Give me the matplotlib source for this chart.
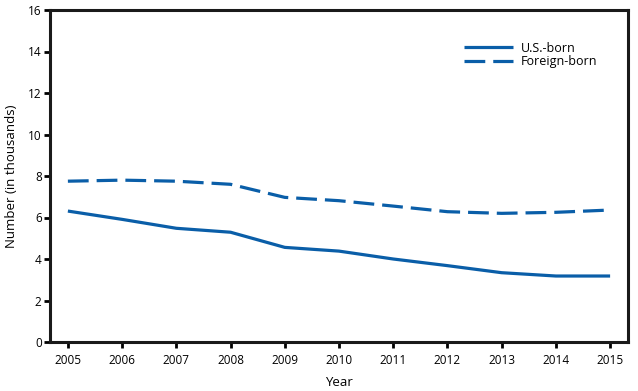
import matplotlib
matplotlib.use("Agg")
import matplotlib.pyplot as plt

years = [2005, 2006, 2007, 2008, 2009, 2010, 2011, 2012, 2013, 2014, 2015]
us_born = [6.31, 5.91, 5.48, 5.29, 4.56, 4.38, 4.0, 3.68, 3.34, 3.18, 3.18]
foreign_born = [7.75, 7.8, 7.75, 7.6, 6.97, 6.81, 6.55, 6.28, 6.2, 6.25, 6.36]
yticks = [0, 2, 4, 6, 8, 10, 12, 14, 16]

plt.rcParams['font.family'] = ['Open Sans', 'DejaVu Sans']
color = '#0a5ea8'

fig = plt.figure(figsize=(6.38, 3.91), dpi=100)
ax = fig.add_axes([50/638, 49/391, 578/638, 332/391])

ax.plot(years, us_born, color=color, lw=2.3, label='U.S.-born', solid_capstyle='butt')
ax.plot(years, foreign_born, color=color, lw=2.3, dashes=(6.5, 2.5), label='Foreign-born')

ax.set_xlim(2004.67, 2015.33)
ax.set_ylim(0, 16)
ax.set_xticks(years)
ax.set_yticks(yticks)
ax.tick_params(axis='both', direction='out', length=4, width=2, labelsize=8.5, pad=2, colors='black')
ax.tick_params(axis='x', pad=5)
for s in ax.spines.values():
    s.set_linewidth(2.2)
    s.set_color('#1a1a1a')

ax.set_xlabel('Year', fontsize=9.5, labelpad=6)
ax.set_ylabel('Number (in thousands)', fontsize=9.5, labelpad=7)

leg = ax.legend(loc='upper right', bbox_to_anchor=(0.955, 0.92), frameon=False,
                fontsize=9, handlelength=3.9, handletextpad=0.6, labelspacing=0.05,
                borderaxespad=0)

fig.savefig('out.png', dpi=100)
